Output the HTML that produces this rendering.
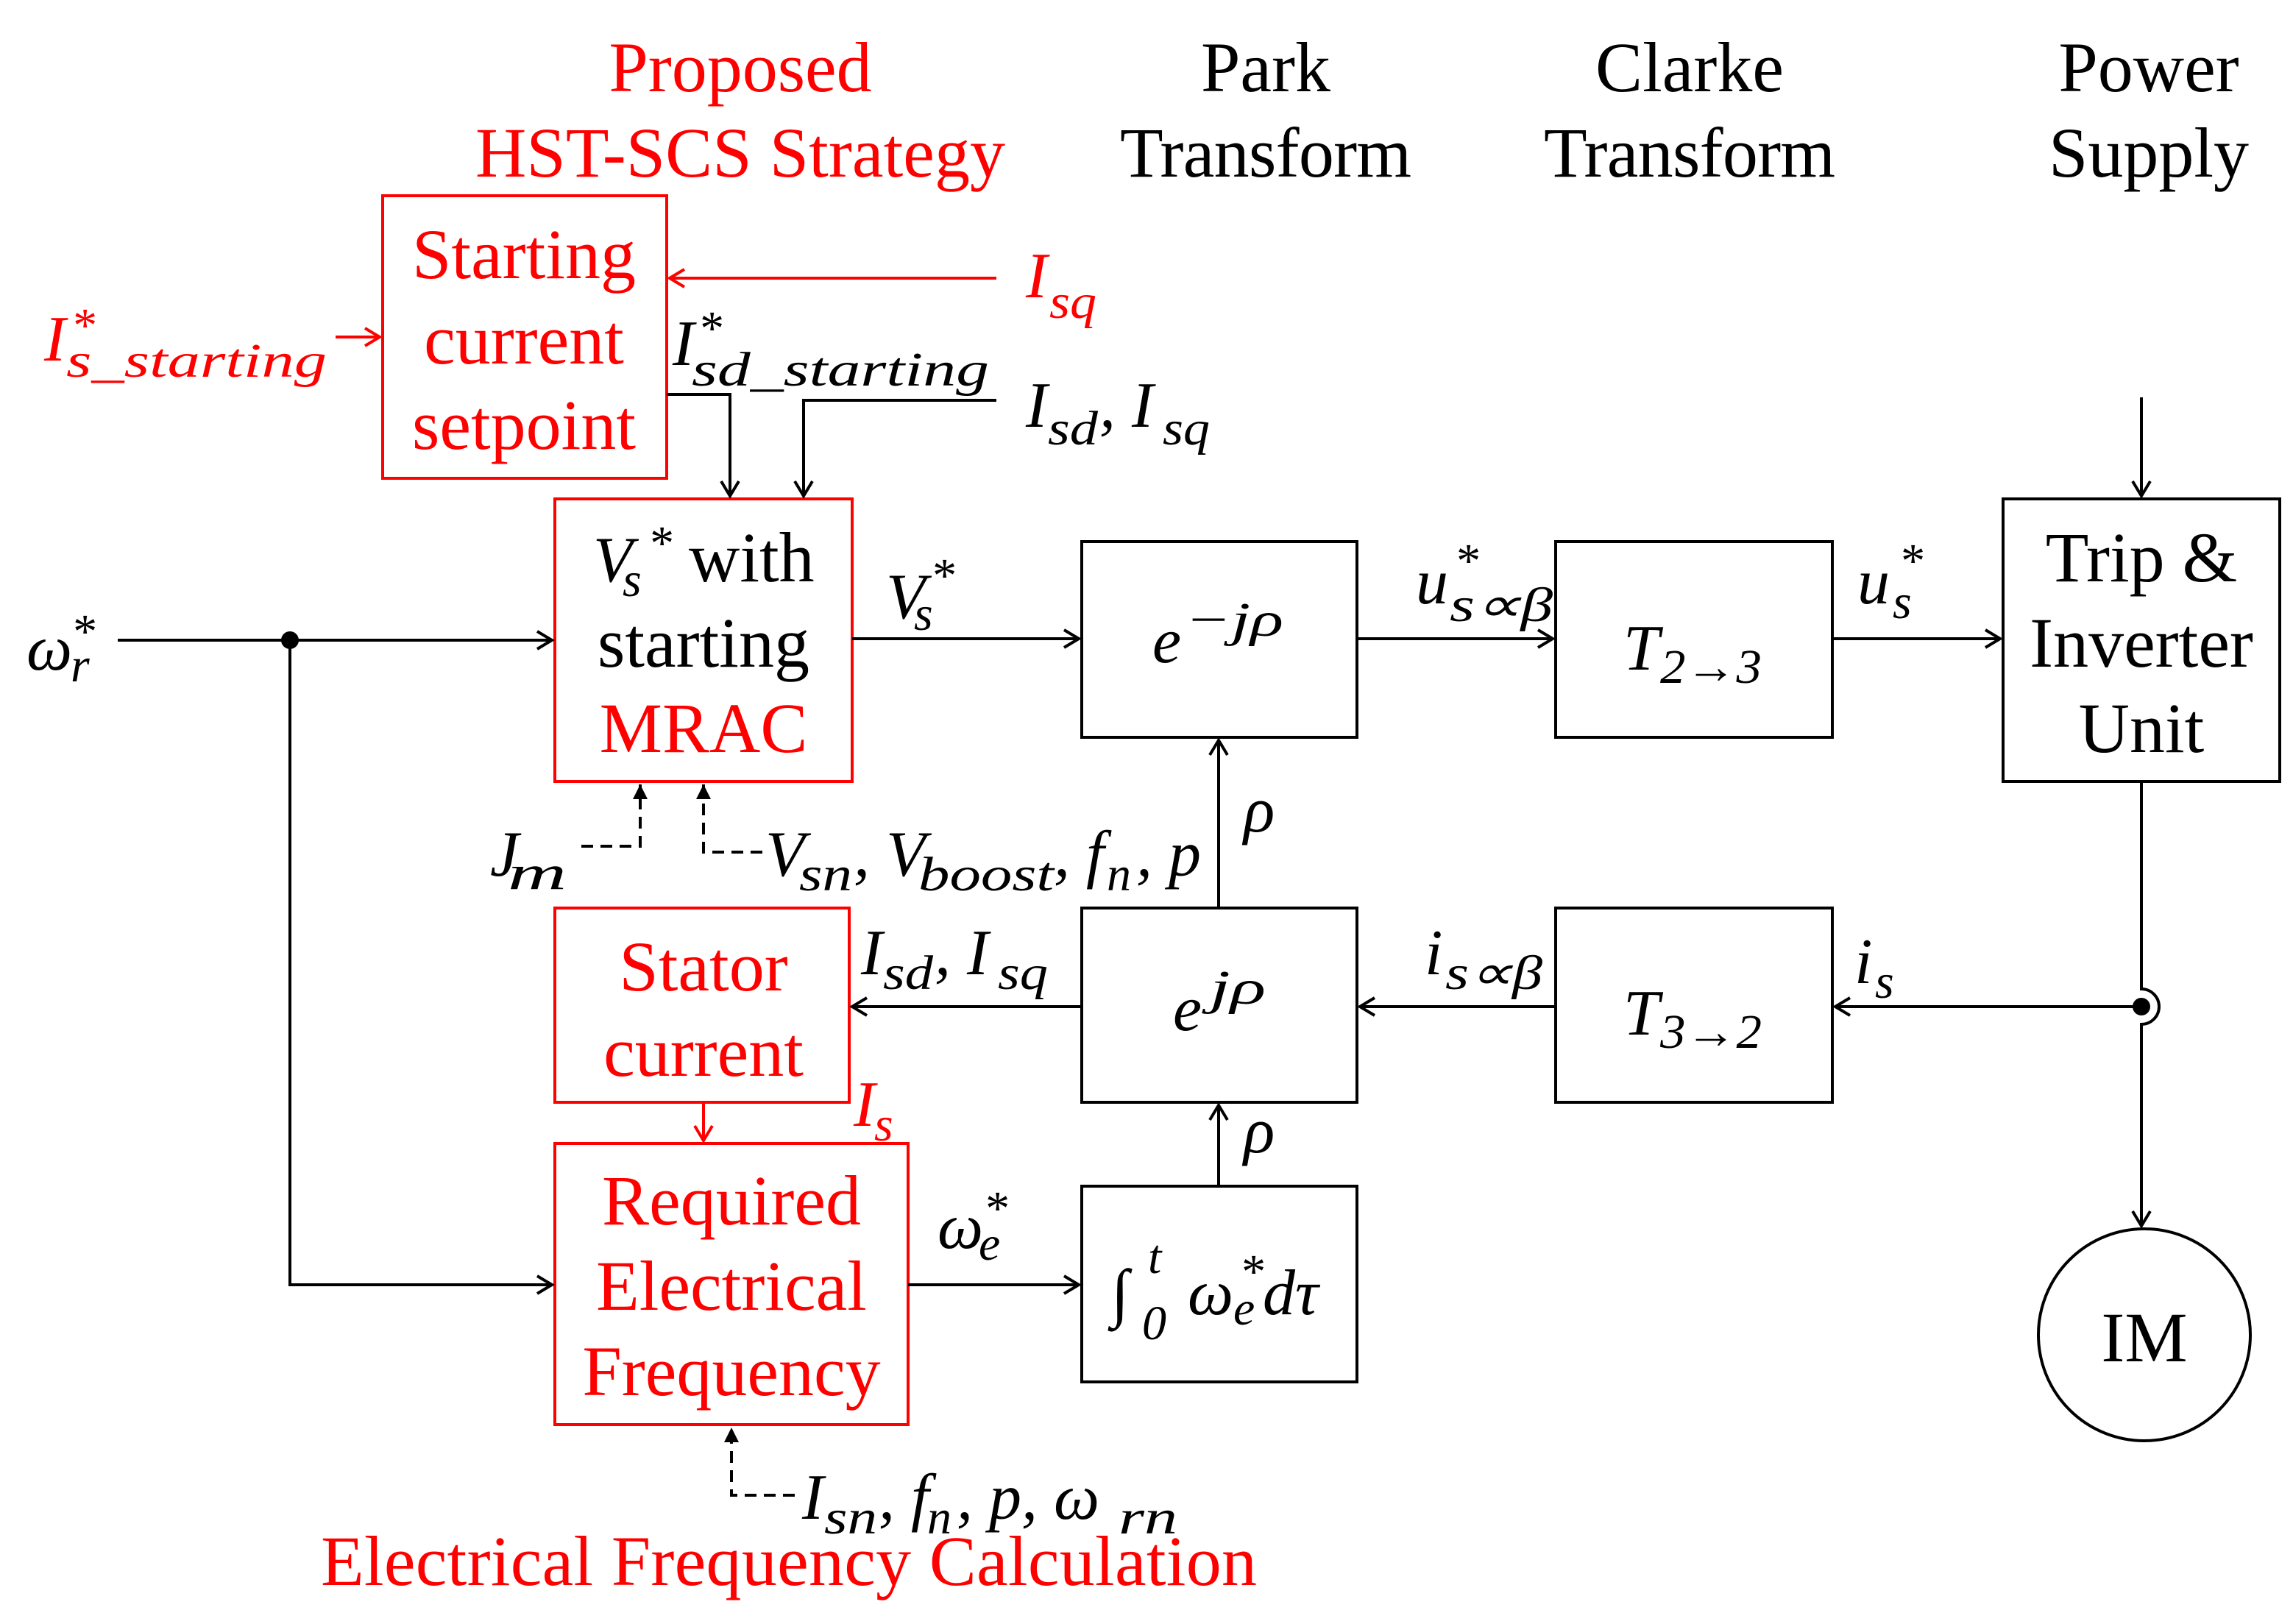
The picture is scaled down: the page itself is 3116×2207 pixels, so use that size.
<!DOCTYPE html>
<html><head><meta charset="utf-8"><style>
html,body{margin:0;padding:0;background:#fff}
svg{display:block}
text{font-family:"Liberation Serif",serif}
.t{font-size:48px}
.m{font-size:44px;font-style:italic}
.s{font-size:33px;font-style:italic}
.r{fill:#f00}
</style></head><body>
<svg width="3116" height="2207" viewBox="0 0 1558 1103.5" xmlns="http://www.w3.org/2000/svg">
<defs>
<marker id="a" markerWidth="14" markerHeight="14" refX="12" refY="7" orient="auto" markerUnits="userSpaceOnUse"><path d="M2,1 L12,7 L2,13" fill="none" stroke="#000" stroke-width="2"/></marker>
<marker id="ar" markerWidth="14" markerHeight="14" refX="12" refY="7" orient="auto" markerUnits="userSpaceOnUse"><path d="M2,1 L12,7 L2,13" fill="none" stroke="#f00" stroke-width="2"/></marker>
<marker id="f" markerWidth="12" markerHeight="12" refX="10" refY="5" orient="auto" markerUnits="userSpaceOnUse"><path d="M0,0 L10,5 L0,10 z" fill="#000"/></marker>
</defs>
<g fill="none" stroke-width="2">
<rect x="260" y="133" width="193" height="192" stroke="#f00"/>
<rect x="377" y="339" width="202" height="192" stroke="#f00"/>
<rect x="377" y="617" width="200" height="132" stroke="#f00"/>
<rect x="377" y="777" width="240" height="191" stroke="#f00"/>
<rect x="735" y="368" width="187" height="133" stroke="#000"/>
<rect x="1057" y="368" width="188" height="133" stroke="#000"/>
<rect x="1361" y="339" width="188" height="192" stroke="#000"/>
<rect x="735" y="617" width="187" height="132" stroke="#000"/>
<rect x="1057" y="617" width="188" height="132" stroke="#000"/>
<rect x="735" y="806" width="187" height="133" stroke="#000"/>
<circle cx="1457" cy="907" r="72" stroke="#000"/>
<line x1="228" y1="229" x2="258" y2="229" stroke="#f00" marker-end="url(#ar)"/>
<line x1="677" y1="189" x2="455" y2="189" stroke="#f00" marker-end="url(#ar)"/>
<line x1="478" y1="749" x2="478" y2="775" stroke="#f00" marker-end="url(#ar)"/>
<g stroke="#000">
<polyline points="453,268 496,268 496,337" marker-end="url(#a)"/>
<polyline points="677,272 546,272 546,337" marker-end="url(#a)"/>
<line x1="80" y1="435" x2="375" y2="435" marker-end="url(#a)"/>
<polyline points="197,435 197,873 375,873" marker-end="url(#a)"/>
<line x1="579" y1="434" x2="733" y2="434" marker-end="url(#a)"/>
<line x1="922" y1="434" x2="1055" y2="434" marker-end="url(#a)"/>
<line x1="1245" y1="434" x2="1359" y2="434" marker-end="url(#a)"/>
<line x1="1455" y1="270" x2="1455" y2="337" marker-end="url(#a)"/>
<path d="M1455,531 L1455,672 A12,12 0 0 1 1455,696 L1455,833" marker-end="url(#a)"/>
<line x1="1455" y1="684" x2="1247" y2="684" marker-end="url(#a)"/>
<line x1="1057" y1="684" x2="924" y2="684" marker-end="url(#a)"/>
<line x1="735" y1="684" x2="579" y2="684" marker-end="url(#a)"/>
<line x1="828" y1="617" x2="828" y2="503" marker-end="url(#a)"/>
<line x1="617" y1="873" x2="733" y2="873" marker-end="url(#a)"/>
<line x1="828" y1="806" x2="828" y2="751" marker-end="url(#a)"/>
<polyline points="395,575 435,575 435,533" stroke-dasharray="8,5" marker-end="url(#f)"/>
<polyline points="518,579 478,579 478,533" stroke-dasharray="8,5" marker-end="url(#f)"/>
<polyline points="540,1016 497,1016 497,970" stroke-dasharray="8,5" marker-end="url(#f)"/>
</g>
</g>
<circle cx="197" cy="435" r="6" fill="#000"/>
<circle cx="1455" cy="684" r="6" fill="#000"/>
<g class="t" text-anchor="middle">
<text x="503" y="62" class="r">Proposed</text>
<text x="503" y="120" class="r" textLength="360">HST-SCS Strategy</text>
<text x="860" y="62">Park</text><text x="860" y="120" textLength="198">Transform</text>
<text x="1148" y="62">Clarke</text><text x="1148" y="120" textLength="198">Transform</text>
<text x="1460" y="62">Power</text><text x="1460" y="120">Supply</text>
<text x="356" y="189" class="r">Starting</text>
<text x="356" y="247" class="r">current</text>
<text x="356" y="305" class="r">setpoint</text>
<text x="478" y="453">starting</text>
<text x="478" y="511" class="r">MRAC</text>
<text x="1455" y="395">Trip &amp;</text>
<text x="1455" y="453">Inverter</text>
<text x="1455" y="511">Unit</text>
<text x="478" y="673" class="r">Stator</text>
<text x="478" y="731" class="r">current</text>
<text x="497" y="832" class="r">Required</text>
<text x="497" y="890" class="r">Electrical</text>
<text x="497" y="948" class="r">Frequency</text>
<text x="1457" y="925">IM</text>
<text x="536" y="1077" class="r" textLength="636">Electrical Frequency Calculation</text>
</g>
<text class="t" x="468" y="395">with</text>
<g class="m">
<g class="r"><text x="30" y="245">I</text><text class="s" x="48" y="232">*</text><text class="s" x="45" y="256" textLength="177" lengthAdjust="spacingAndGlyphs">s_starting</text></g>
<g class="r"><text x="697" y="202">I</text><text class="s" x="713" y="216" textLength="32" lengthAdjust="spacingAndGlyphs">sq</text></g>
<text x="457" y="248">I</text><text class="s" x="474" y="234">*</text><text class="s" x="470" y="262" textLength="202" lengthAdjust="spacingAndGlyphs">sd_starting</text>
<text x="697" y="290">I</text><text class="s" x="712" y="302" textLength="34" lengthAdjust="spacingAndGlyphs">sd</text><text x="747" y="290">, I</text><text class="s" x="790" y="302" textLength="32" lengthAdjust="spacingAndGlyphs">sq</text>
<text x="18" y="455">ω</text><text class="s" x="48" y="440">*</text><text class="s" x="48" y="463">r</text>
<text x="403" y="395">V</text><text class="s" x="440" y="380">*</text><text class="s" x="423" y="405">s</text>
<text x="602" y="420">V</text><text class="s" x="632" y="402">*</text><text class="s" x="621" y="428">s</text>
<text x="783" y="450">e</text><text class="s" x="805" y="432" textLength="67" lengthAdjust="spacingAndGlyphs">−jρ</text>
<text x="962" y="410">u</text><text class="s" x="988" y="392">*</text><text class="s" x="985" y="422" textLength="70" lengthAdjust="spacingAndGlyphs">s∝β</text>
<text x="1103" y="455">T</text><text class="s" x="1128" y="464" font-style="normal" textLength="69" lengthAdjust="spacingAndGlyphs">2→3</text>
<text x="1262" y="410">u</text><text class="s" x="1290" y="392">*</text><text class="s" x="1286" y="420">s</text>
<text x="845" y="565">ρ</text>
<text x="333" y="595">J</text><text class="s" x="345" y="604" textLength="40" lengthAdjust="spacingAndGlyphs">m</text>
<text x="520" y="595">V</text><text class="s" x="543" y="605" textLength="36" lengthAdjust="spacingAndGlyphs">sn</text><text x="580" y="595">, V</text><text class="s" x="624" y="605" textLength="92" lengthAdjust="spacingAndGlyphs">boost</text><text x="716" y="595">, f</text><text class="s" x="752" y="605">n</text><text x="772" y="595">, p</text>
<text x="585" y="662">I</text><text class="s" x="600" y="672" textLength="34" lengthAdjust="spacingAndGlyphs">sd</text><text x="635" y="662">, I</text><text class="s" x="678" y="672" textLength="34" lengthAdjust="spacingAndGlyphs">sq</text>
<text x="968" y="662">i</text><text class="s" x="982" y="672" textLength="66" lengthAdjust="spacingAndGlyphs">s∝β</text>
<text x="1103" y="703">T</text><text class="s" x="1128" y="712" font-style="normal" textLength="69" lengthAdjust="spacingAndGlyphs">3→2</text>
<text x="1260" y="668">i</text><text class="s" x="1274" y="678">s</text>
<text x="797" y="700">e</text><text class="s" x="822" y="682" textLength="38" lengthAdjust="spacingAndGlyphs">jρ</text>
<text class="r" x="580" y="765">I</text><text class="s r" x="594" y="775">s</text>
<text x="845" y="783">ρ</text>
<text x="637" y="848">ω</text><text class="s" x="668" y="832">*</text><text class="s" x="665" y="856">e</text>
<text x="755" y="893">∫</text><text class="s" x="780" y="865">t</text><text class="s" x="776" y="910" font-style="normal">0</text><text x="807" y="893">ω</text><text class="s" x="842" y="875">*</text><text class="s" x="838" y="900">e</text><text x="858" y="893">dτ</text>
<text x="545" y="1032">I</text><text class="s" x="560" y="1042" textLength="36" lengthAdjust="spacingAndGlyphs">sn</text><text x="597" y="1032">, f</text><text class="s" x="630" y="1042">n</text><text x="650" y="1032">, p, ω</text><text class="s" x="760" y="1042" textLength="40" lengthAdjust="spacingAndGlyphs">rn</text>
</g>
</svg>
</body></html>
